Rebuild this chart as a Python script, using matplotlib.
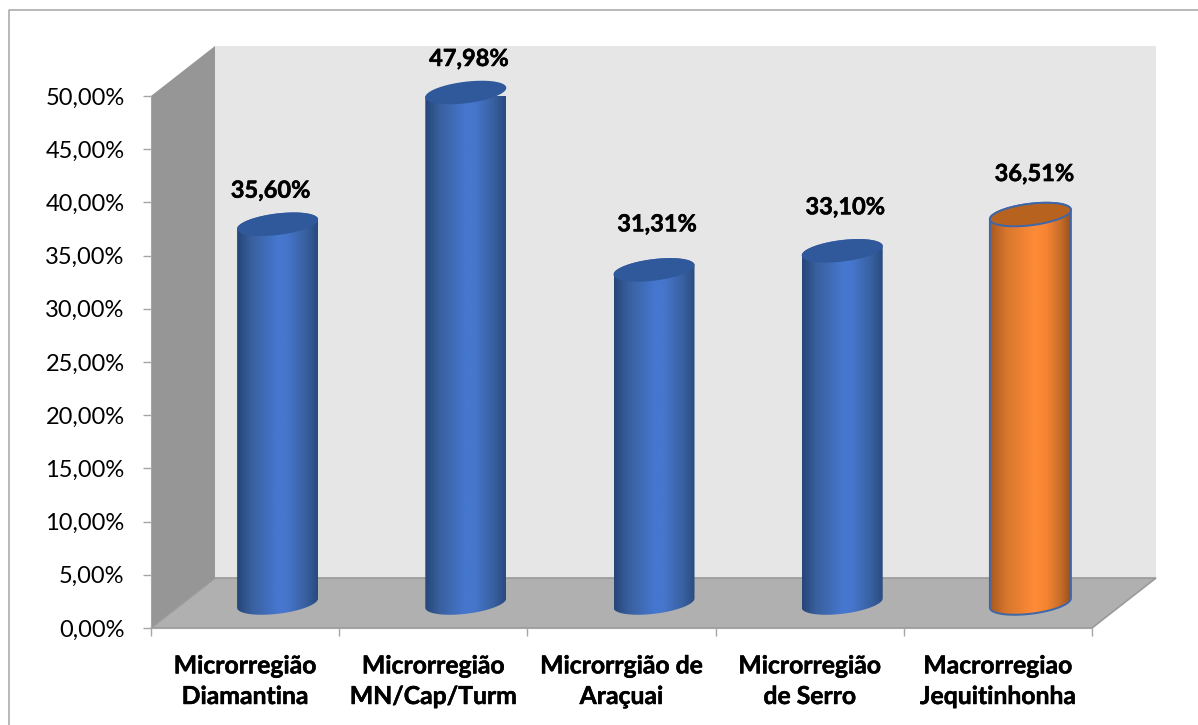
import numpy as np
import matplotlib
matplotlib.use("Agg")
import matplotlib.pyplot as plt
import matplotlib.patheffects as pe
from matplotlib.colors import LinearSegmentedColormap
from matplotlib.lines import Line2D
from matplotlib.patches import Polygon
from matplotlib.ticker import FuncFormatter

# === DATA ===
CATEGORIES = ["Microrregião\nDiamantina", "Microrregião\nMN/Cap/Turm", "Microrrgião de\nAraçuai",
              "Microrregião\nde Serro", "Macrorregiao\nJequitinhonha"]
VALUES = [35.60, 47.98, 31.31, 33.10, 36.51]
VALUE_LABELS = ["35,60%", "47,98%", "31,31%", "33,10%", "36,51%"]
Y_TICKS = [0, 5, 10, 15, 20, 25, 30, 35, 40, 45, 50]

# === LAYOUT (pixels of the 1198x725 picture) ===
W, H = 1198, 725
LEFT, RIGHT, BOTTOM, TOP = 151, 1092, 628, 96
DEPTH_X, DEPTH_Y = 64, 50
PX_X = 5 / (RIGHT - LEFT)
PX_Y = 50 / (BOTTOM - TOP)
# labels were placed by hand in the original, so nudge them off the bars (px)
LABEL_NUDGE = [(-7, 35), (3, 35), (3, 47), (3, 45), (4, 42)]

BLUE = LinearSegmentedColormap.from_list("blue", [(0, "#264679"), (0.18, "#39609f"), (0.5, "#4677cf"),
                                                  (0.62, "#4676cc"), (0.85, "#38609f"), (1, "#284a80")])
ORANGE = LinearSegmentedColormap.from_list("orange", [(0, "#a75a20"), (0.2, "#d8762c"), (0.55, "#ff8b37"),
                                                      (0.7, "#f58533"), (0.88, "#c76c29"), (1, "#96511d")])
BOLDER = [pe.withStroke(linewidth=0.35, foreground="black")]
plt.rcParams["font.family"] = ["Lato", "DejaVu Sans"]

fig = plt.figure(figsize=(W / 100, H / 100), dpi=100)
# the frame only shows on the top and left of the crop
fig.add_artist(Line2D([9 / W, 9 / W, 1], [0, 1 - 10 / H, 1 - 10 / H], transform=fig.transFigure,
                      color="#a6a6a6", lw=1.1, zorder=-1))
ax = fig.add_axes([LEFT / W, 1 - BOTTOM / H, (RIGHT - LEFT) / W, (BOTTOM - TOP) / H])
ax.patch.set_visible(False)


def to_data(px, py):
    # picture pixels -> data coordinates
    return (px - LEFT) * PX_X, (BOTTOM - py) * PX_Y


def add_poly(points, **kw):
    pts = [to_data(*p) for p in points]
    ax.add_patch(Polygon(pts, closed=True, clip_on=False, **kw))


# === 3D box: back wall, side wall, floor ===
bx, by = LEFT + DEPTH_X, BOTTOM - DEPTH_Y
add_poly([(bx, by), (bx, TOP - DEPTH_Y), (RIGHT + DEPTH_X, TOP - DEPTH_Y), (RIGHT + DEPTH_X, by)],
         fc="#e6e6e6", ec="none", zorder=1)
add_poly([(LEFT, BOTTOM), (LEFT, TOP), (bx, TOP - DEPTH_Y), (bx, by)], fc="#969696", ec="none", zorder=1)
add_poly([(LEFT, BOTTOM), (bx, by), (RIGHT + DEPTH_X, by), (RIGHT, BOTTOM)], fc="#b0b0b0", ec="#9a9a9a",
         lw=1.2, zorder=1.5)


# === Cylinders ===
def ellipse_px(cx, cy, t):
    a, b, shear = 40.5, 10.8, 0.115
    dx = a * np.cos(t)
    return cx + dx, cy + b * np.sin(t) - dx * shear


for i, (val, txt, nudge) in enumerate(zip(VALUES, VALUE_LABELS, LABEL_NUDGE)):
    x0, y0 = i + 0.5 + 32.5 * PX_X, 25 * PX_Y
    is_macro = i == len(VALUES) - 1
    cmap = ORANGE if is_macro else BLUE
    top_col = "#b8621f" if is_macro else "#30599b"
    edge = "#3f66a8" if is_macro else "none"

    cx, base_y = LEFT + x0 / PX_X, BOTTOM - y0 / PX_Y
    top_y = base_y - val / PX_Y
    # body outline: front of the base, then the back of the top ellipse
    bx1, by1 = ellipse_px(cx, base_y, np.linspace(0, np.pi, 60))
    tx1, ty1 = ellipse_px(cx, top_y, np.linspace(np.pi, 2 * np.pi, 60))
    body_data = [to_data(*p) for p in list(zip(bx1, by1)) + list(zip(tx1, ty1))]
    ax.add_patch(Polygon(body_data, closed=True, fc="none", ec=edge, lw=1.4, clip_on=False, zorder=3))

    xl, yb = to_data(cx - 40.5, 620)
    xr, yt = to_data(cx + 40.5, top_y - 16)
    im = ax.imshow(np.linspace(0, 1, 200).reshape(1, -1), cmap=cmap, aspect="auto", extent=(xl, xr, yb, yt),
                   zorder=2.5, vmin=0, vmax=1)
    im.set_clip_path(Polygon(body_data, closed=True, transform=ax.transData))
    im.set_clip_box(None)

    ex, ey = ellipse_px(cx, top_y, np.linspace(0, 2 * np.pi, 120))
    add_poly(list(zip(ex, ey)), fc=top_col, ec=edge, lw=1.4, zorder=3.5)

    ax.text(x0 + nudge[0] * PX_X, val + 24 * PX_Y + nudge[1] * PX_Y, txt, ha="center", va="center", fontsize=17,
            fontweight="bold", color="black", clip_on=False, zorder=5, path_effects=BOLDER)

# === Axes ===
ax.set_xlim(0, 5)
ax.set_ylim(0, 50)
ax.set_yticks(Y_TICKS)
ax.yaxis.set_major_formatter(FuncFormatter(lambda v, pos: f"{v:.2f}%".replace(".", ",")))
ax.set_xticks(range(6))
ax.set_xticklabels([])
ax.set_xticks(np.arange(5) + 0.5, CATEGORIES, minor=True, fontweight="bold", fontsize=17.8, linespacing=1.4,
              path_effects=BOLDER)
ax.tick_params(axis="y", length=6, width=1, color="#a6a6a6", labelsize=17, pad=13)
ax.tick_params(axis="x", which="major", length=6, width=1, color="#a6a6a6")
ax.tick_params(axis="x", which="minor", length=0, pad=19)
for name, spine in ax.spines.items():
    spine.set_visible(name in ("left", "bottom"))
    spine.set_color("#a6a6a6")
    spine.set_zorder(2)

fig.savefig("out.png", dpi=100, facecolor="white")
